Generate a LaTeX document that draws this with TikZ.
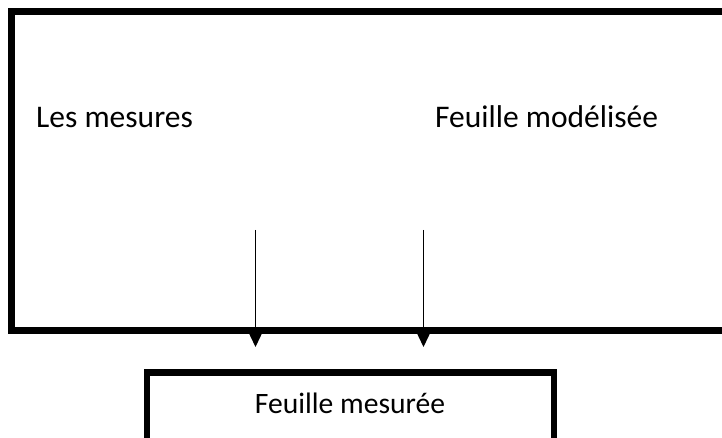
\documentclass[tikz,border=0pt]{standalone}
\usepackage{fontspec}
\setmainfont{Carlito}
\usetikzlibrary{arrows.meta}
\tikzset{
  thickbox/.style={draw=black, line width=6.7pt},
  label/.style={inner sep=0pt, font=\fontsize{31.5}{38}\selectfont},
  smalllabel/.style={inner sep=0pt, font=\fontsize{29.6}{36}\selectfont},
  flow/.style={line width=1.3pt, -{Triangle[length=15pt,width=14pt]}}
}
\begin{document}
\begin{tikzpicture}[x=1pt,y=-1pt]
\useasboundingbox (0,0) rectangle (722,438);
\clip (0,0) rectangle (722,438);
\fill[white] (0,0) rectangle (722,438);
% big box (right side runs off the picture)
\draw[thickbox] (11.7,11.7) rectangle (760,330.7);
% bottom box (bottom runs off the picture)
\draw[thickbox] (147,372.7) rectangle (554,470);
\node[label, anchor=base west] (mes) at (36,127.3) {Les mesures};
\node[label, anchor=base west] (mod) at (435,127.3) {Feuille modélisée};
\node[smalllabel, anchor=base] (res) at (350,413.3) {Feuille mesurée};
\coordinate (a1) at (255.5,230);
\coordinate (b1) at (255.5,347);
\coordinate (a2) at (423.5,230);
\coordinate (b2) at (423.5,347);
\draw[flow] (a1) -- (b1);
\draw[flow] (a2) -- (b2);
\end{tikzpicture}
\end{document}
